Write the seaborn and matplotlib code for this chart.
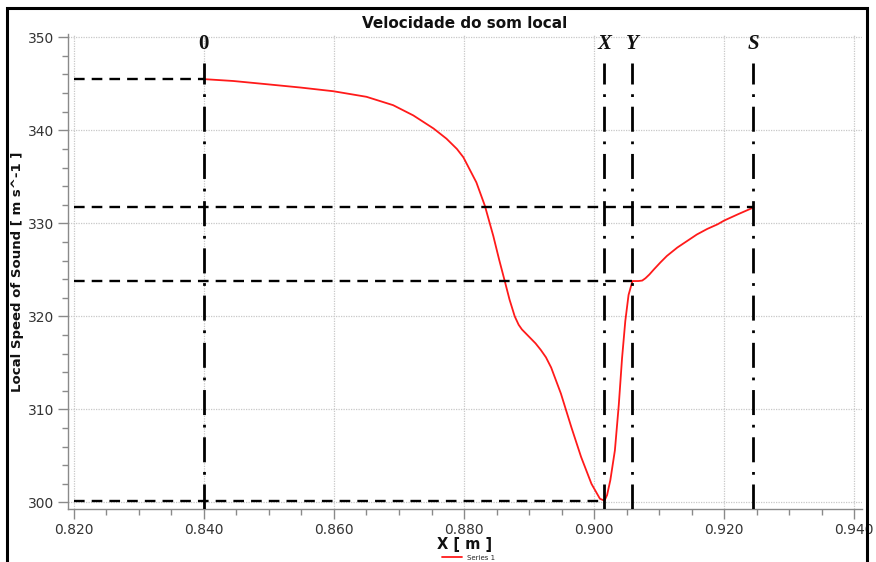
import matplotlib
matplotlib.use("Agg")
import matplotlib.pyplot as plt
import matplotlib.patches as mpatches
from matplotlib.ticker import MultipleLocator, FormatStrFormatter
import seaborn as sns
import pandas as pd

# ---- data ----
x_pos = [0.8400, 0.8445, 0.8497, 0.8548, 0.8599, 0.8650, 0.8691, 0.8722, 0.8753,
         0.8773, 0.8789, 0.8799, 0.8819, 0.8832, 0.8845, 0.8854, 0.8863, 0.8870,
         0.8878, 0.8884, 0.8889, 0.8896, 0.8903, 0.8910, 0.8918, 0.8926, 0.8934,
         0.8949, 0.8965, 0.8980, 0.8996, 0.9009, 0.9016, 0.9020, 0.9025, 0.9032,
         0.9038, 0.9043, 0.9048, 0.9053, 0.9059, 0.9068, 0.9074, 0.9079, 0.9085,
         0.9092, 0.9102, 0.9112, 0.9128, 0.9143, 0.9158, 0.9174, 0.9190, 0.9200,
         0.9222, 0.9245]
sound_speed = [345.5, 345.3, 344.95, 344.6, 344.2, 343.6, 342.7, 341.6, 340.2,
               339.1, 338.0, 337.1, 334.4, 331.9, 328.65, 326.1, 323.7, 321.8,
               320.0, 319.1, 318.6, 318.1, 317.6, 317.1, 316.4, 315.6, 314.5,
               311.7, 308.1, 304.9, 302.0, 300.4, 300.2, 300.8, 302.4, 305.6,
               310.5, 315.5, 319.5, 322.3, 323.8, 323.8, 323.85, 324.1, 324.5,
               325.05, 325.8, 326.5, 327.4, 328.1, 328.8, 329.4, 329.9, 330.3,
               331.0, 331.7]

marker_x = [0.8400, 0.9016, 0.9059, 0.9245]
marker_labels = ["0", "X", "Y", "S"]
marker_levels = [345.5, 300.2, 323.8, 331.8]

title = "Velocidade do som local"
x_label = "X [ m ]"
y_label = "Local Speed of Sound [ m s^-1 ]"
series_name = "Series 1"

df = pd.DataFrame({"x": x_pos, "v": sound_speed, "series": series_name})

sns.set_style("white")
plt.rcParams["font.family"] = ["DejaVu Sans"]

fig = plt.figure(figsize=(8.76, 5.62), dpi=100)
ax = fig.add_axes([68 / 876, 53 / 562, (862 - 68) / 876, (509 - 34) / 562])

sns.lineplot(data=df, x="x", y="v", hue="series", palette=["#ff1a1a"],
             linewidth=1.3, ax=ax, legend=False, sort=False, estimator=None)

ax.set_xlim(0.8191, 0.9412)
ax.set_ylim(299.3, 350.35)

ax.xaxis.set_major_locator(MultipleLocator(0.02))
ax.xaxis.set_minor_locator(MultipleLocator(0.005))
ax.yaxis.set_major_locator(MultipleLocator(10))
ax.yaxis.set_minor_locator(MultipleLocator(2))
ax.xaxis.set_major_formatter(FormatStrFormatter("%.3f"))
ax.yaxis.set_major_formatter(FormatStrFormatter("%d"))

ax.grid(True, which="major", color="#c8c8c8", linestyle=(0, (1, 1)), linewidth=0.9)
for s in ["top", "right"]:
    ax.spines[s].set_visible(False)
for s in ["left", "bottom"]:
    ax.spines[s].set_color("#8a8a8a")
    ax.spines[s].set_linewidth(1.0)
ax.tick_params(which="major", direction="out", length=7, width=1.0,
               color="#8a8a8a", labelsize=10, labelcolor="#333333", pad=3)
ax.tick_params(which="minor", direction="out", length=4, width=1.0, color="#8a8a8a")
ax.tick_params(axis="y", which="both", left=True)
ax.tick_params(axis="x", which="both", bottom=True)

# reference lines
ax.vlines(marker_x, 299.3, 347.2, colors="black", linewidth=2.0,
          linestyles=[(0, (9, 3.5, 1, 3.5))], zorder=3)
ax.hlines(marker_levels, 0.820, marker_x, colors="black", linewidth=1.7,
          linestyles=[(0, (4.5, 3))], zorder=3)
for xm, lab in zip(marker_x, marker_labels):
    style = "normal" if lab == "0" else "italic"
    ax.text(xm, 349.3, lab, ha="center", va="center", fontsize=15,
            fontweight="bold", fontstyle=style, family=["Liberation Serif"],
            color="#111111", zorder=4)

ax.set_title(title, fontsize=11, fontweight="bold", pad=4, color="#111111")
ax.set_xlabel(x_label, fontsize=10.5, fontweight="bold", labelpad=0, color="#111111")
ax.set_ylabel(y_label, fontsize=9.5, fontweight="bold", labelpad=3, color="#111111")

# legend (tiny, at bottom edge)
handle = plt.Line2D([], [], color="#ff1a1a", linewidth=1.3)
fig.legend([handle], [series_name], loc="center", bbox_to_anchor=(0.535, 0.008),
           frameon=False, fontsize=5, handlelength=2.8, handletextpad=0.8,
           borderpad=0.05, borderaxespad=0)

# figure frame
fig.patches.append(mpatches.Rectangle((7 / 876, -0.02), (867 - 7) / 876, 1.02 - 8 / 562,
                                      transform=fig.transFigure, fill=False,
                                      edgecolor="black", linewidth=2.2, zorder=10))

fig.savefig("out.png", dpi=100)
